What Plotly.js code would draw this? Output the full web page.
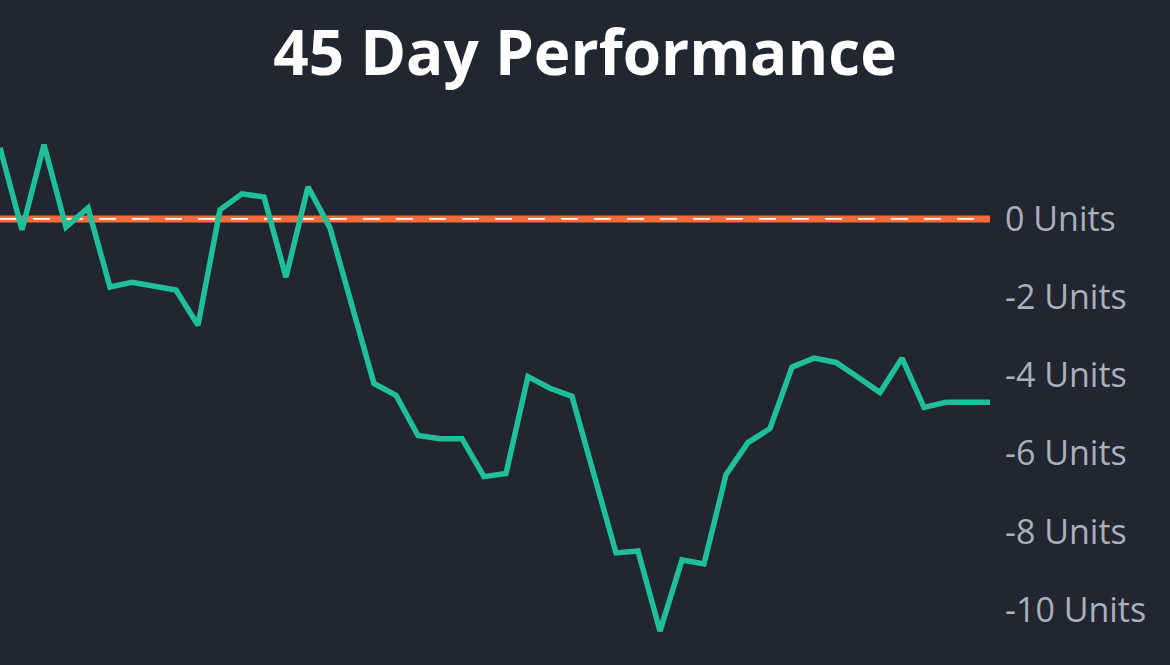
<!DOCTYPE html>
<html>
<head>
<meta charset="utf-8">
<script src="https://cdn.plot.ly/plotly-3.0.1.min.js"></script>
<style>
html,body{margin:0;padding:0;background:#222631;}
#chart{width:1170px;height:665px;}
</style>
</head>
<body>
<div id="chart"></div>
<script>
// Day index 0..45
const days = [0,1,2,3,4,5,6,7,8,9,10,11,12,13,14,15,16,17,18,19,20,21,22,23,24,25,26,27,28,29,30,31,32,33,34,35,36,37,38,39,40,41,42,43,44,45];
// Performance in units
const performance = [1.82,-0.28,1.90,-0.21,0.28,-1.74,-1.62,-1.72,-1.82,-2.72,0.23,0.64,0.56,-1.49,0.82,-0.23,-2.23,-4.21,-4.51,-5.54,-5.62,-5.62,-6.59,-6.51,-4.03,-4.33,-4.54,-6.54,-8.54,-8.49,-10.54,-8.72,-8.82,-6.54,-5.72,-5.36,-3.79,-3.56,-3.67,-4.05,-4.44,-3.56,-4.82,-4.69,-4.69,-4.69];
const tickValues = [0,-2,-4,-6,-8,-10];
const tickLabels = ['0 Units','-2 Units','-4 Units','-6 Units','-8 Units','-10 Units'];
const baseline = 0;

const trace = {
  x: days, y: performance, type: 'scatter', mode: 'lines',
  line: {color: '#1fbf9a', width: 5.5}, hoverinfo: 'skip', cliponaxis: false
};

const layout = {
  width: 1170, height: 665,
  paper_bgcolor: '#222631', plot_bgcolor: '#222631',
  margin: {l: 0, r: 180, t: 100, b: 20},
  showlegend: false,
  title: {text: '<b>45 Day Performance</b>', x: 0.5, xref: 'container', xanchor: 'center',
          y: 0.92, yref: 'container', yanchor: 'middle',
          font: {family: '"Open Sans", sans-serif', size: 62, color: '#ffffff'}},
  xaxis: {range: [0, 45], visible: false, showgrid: false, zeroline: false, fixedrange: true},
  yaxis: {range: [-10.895, 3.04], side: 'right', showgrid: false, zeroline: false, showline: false,
          tickvals: tickValues, ticktext: tickLabels, ticks: '', ticklabelstandoff: 14,
          tickfont: {family: '"Open Sans", sans-serif', size: 34, color: '#a9b0bc'}, fixedrange: true},
  shapes: [
    {type: 'line', xref: 'x', yref: 'y', x0: days[0], x1: days[days.length-1], y0: baseline, y1: baseline,
     line: {color: '#f26b3a', width: 7}, layer: 'below'},
    {type: 'line', xref: 'x', yref: 'y', x0: days[0], x1: days[days.length-1], y0: baseline, y1: baseline,
     line: {color: '#ffffff', width: 1.8, dash: '17px,16px'}, layer: 'below'}
  ]
};

Plotly.newPlot('chart', [trace], layout, {displayModeBar: false, staticPlot: true});
</script>
</body>
</html>
